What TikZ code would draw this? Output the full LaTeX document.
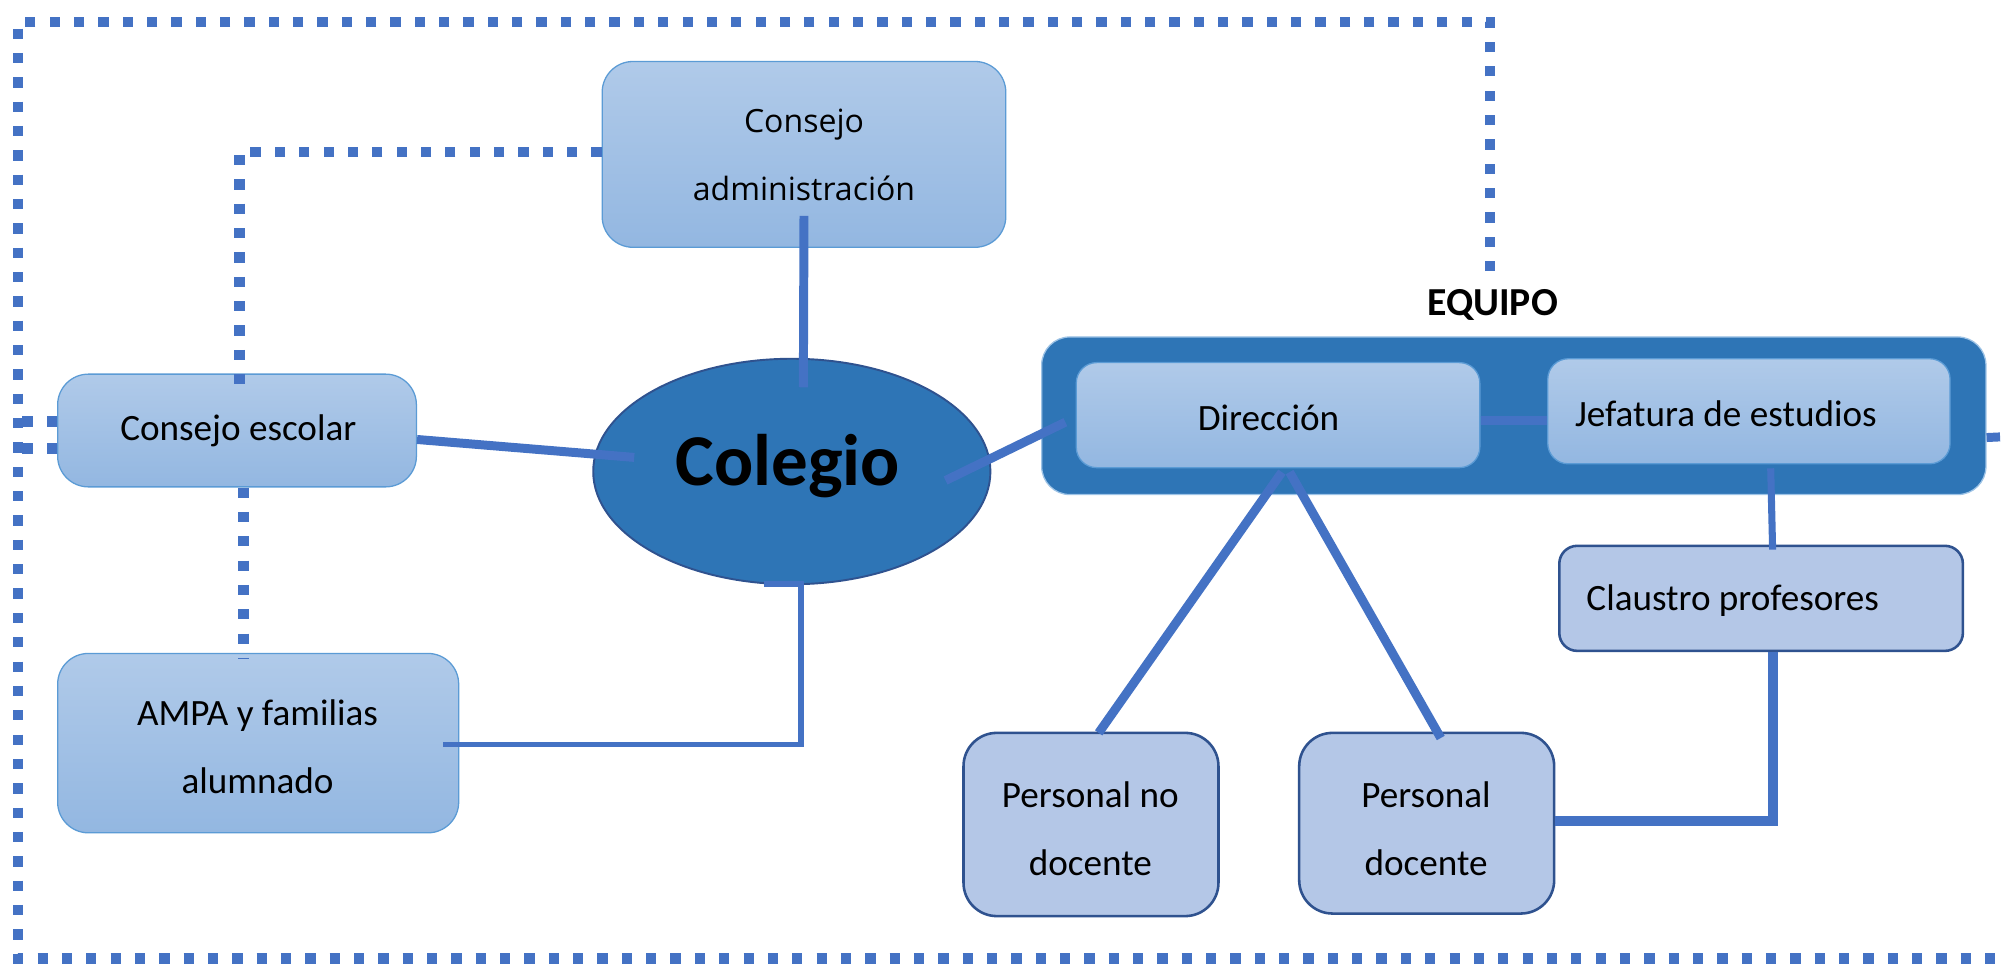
\documentclass[tikz,border=0pt]{standalone}
\usepackage{fontspec}
\setmainfont{Carlito}
\newfontfamily\osans{Open Sans}
\usetikzlibrary{calc,shapes.geometric}
\definecolor{conn}{HTML}{4472C4}
\definecolor{darkfill}{HTML}{2E75B6}
\definecolor{darkedge}{HTML}{2F528F}
\definecolor{gtop}{HTML}{B0CAE9}
\definecolor{gbot}{HTML}{93B7E1}
\definecolor{gedge}{HTML}{5B9BD5}
\definecolor{flatfill}{HTML}{B4C7E7}
\begin{document}
\begin{tikzpicture}[x=1pt,y=-1pt,
  gbox/.style={rectangle, rounded corners=24pt, top color=gtop, bottom color=gbot, draw=gedge, line width=1pt, inner sep=0pt},
  fbox/.style={rectangle, rounded corners=26pt, fill=flatfill, draw=darkedge, line width=2pt, inner sep=0pt},
  conline/.style={draw=conn, line width=7pt},
  thinline/.style={draw=conn, line width=4.5pt},
  dotline/.style={draw=conn, line width=8pt, dash pattern=on 8pt off 11pt},
  txt/.style={font=\fontsize{29}{53}\selectfont, align=center, inner sep=0pt}
]
\fill[white] (0,0) rectangle (1568,752);
\useasboundingbox (0,0) rectangle (1568,752);

% boxes
\node[gbox, minimum width=315pt, minimum height=145pt] (ca) at (627.5,120.5) {};
\node[font=\osans\fontsize{25}{53}\selectfont, align=center, inner sep=0pt] (catxt) at (627.5,121) {Consejo\\administración};

\node[gbox, minimum width=280pt, minimum height=88pt] (ce) at (185,336) {};
\node[txt] (cetxt) at (186,336) {Consejo escolar};

\node[gbox, minimum width=313pt, minimum height=140pt] (ampa) at (201.5,580) {};
\node[txt] (ampatxt) at (201,583) {AMPA y familias\\alumnado};

\node[ellipse, fill=darkfill, draw=darkedge, line width=1.5pt, minimum width=310pt, minimum height=176pt, inner sep=0pt] (colegio) at (618,368) {};
\node[font=\bfseries\fontsize{57}{60}\selectfont, inner sep=0pt] (colegiotxt) at (615,364) {Colegio};

\node[font=\bfseries\fontsize{31}{34}\selectfont, inner sep=0pt] (equipolbl) at (1165,238) {EQUIPO};
\node[rectangle, rounded corners=22pt, fill=darkfill, draw=gedge!60, line width=1pt, minimum width=737pt, minimum height=123pt, inner sep=0pt] (equipo) at (1181.5,324.5) {};

\node[gbox, rounded corners=16pt, minimum width=315pt, minimum height=82pt] (dir) at (997.5,324) {};
\node[txt] (dirtxt) at (990,326) {Dirección};

\node[gbox, rounded corners=16pt, minimum width=314pt, minimum height=82pt] (jef) at (1365,321) {};
\node[txt] (jeftxt) at (1347,323) {Jefatura de estudios};

\node[fbox, rounded corners=14pt, minimum width=315pt, minimum height=82pt] (claustro) at (1374.5,467) {};
\node[txt, anchor=west] (claustrotxt) at (1238,469) {Claustro profesores};

\node[fbox, minimum width=199pt, minimum height=143pt] (pnd) at (851.5,643.5) {};
\node[txt] (pndtxt) at (851,647) {Personal no\\docente};

\node[fbox, minimum width=199pt, minimum height=141pt] (pd) at (1113.5,642.5) {};
\node[txt] (pdtxt) at (1113,647) {Personal\\docente};

% dotted lines
\coordinate (frameend) at (1568,748);
\draw[dotline] ($(equipolbl.north)+(-2,-14)$) -- (1163,17) -- (14,17) -- (14,748) -- (frameend);
\draw[dotline] ($(ca.west)+(0,-2)$) -| ($(ce.north)+(2,18)$);
\draw[dotline] ($(ce.south)+(5,0)$) -- ($(ampa.north)+(-11.5,5)$);
\coordinate (fl1) at (14,329);
\coordinate (fl2) at (14,350);
\draw[dotline] ($(ce.west)+(0,-7)$) -- (fl1);
\draw[dotline] ($(ce.west)+(0,14)$) -- (fl2);

% solid connectors
\draw[conline] ($(ca.south)+(0,-25)$) -- ($(colegio.north)+(9,23)$);
\draw[conline] ($(ce.east)+(0,7)$) -- ($(colegio.center)+(-123,-11)$);
\draw[thinline] ($(colegio.south)+(-22,-1)$) -- ++(29,0) |- ($(ampa.east)+(-13,1)$);
\draw[conline] ($(colegio.center)+(120,7)$) -- ($(equipo.west)+(19,5)$);
\draw[conline] ($(dir.east)+(0,4)$) -- ($(jef.west)+(0,7)$);
\draw[conline] ($(dir.south)+(3,3)$) -- ($(pnd.north)+(6,1)$);
\draw[conline] ($(dir.south)+(9,3)$) -- ($(pd.north)+(11,5)$);
\draw[thinline, line width=5.5pt] ($(jef.south)+(17,3)$) -- ($(claustro.north)+(9,4)$);
\draw[conline, line width=8pt] ($(claustro.south)+(9,0)$) |- ($(pd.east)+(0,-2)$);
\coordinate (stubend) at (1561,341);
\draw[conline] ($(equipo.east)+(0,17)$) -- (stubend);
\end{tikzpicture}
\end{document}
